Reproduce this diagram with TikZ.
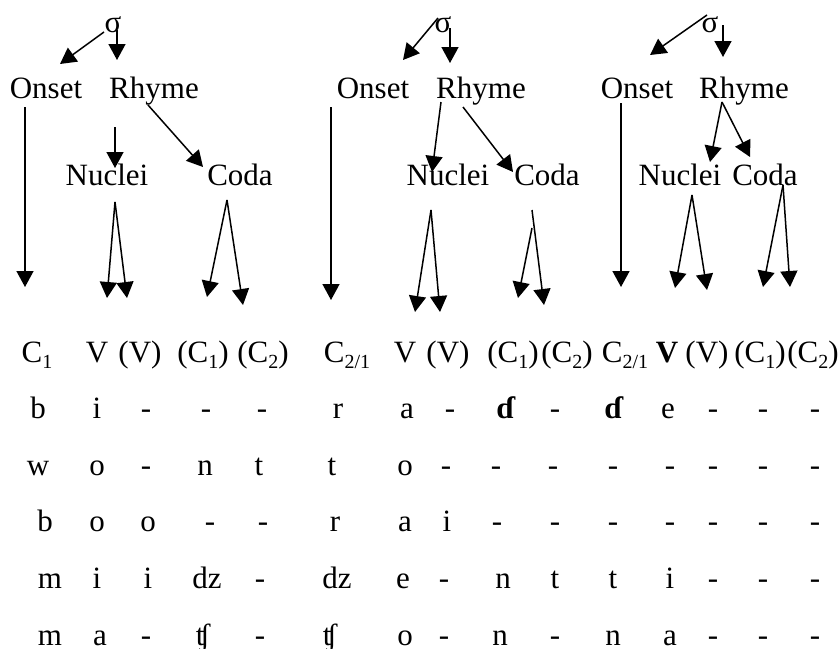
\documentclass[tikz,border=0pt]{standalone}
\usepackage{fontspec}
\setmainfont{Liberation Serif}
\usetikzlibrary{arrows.meta}
\newcommand{\lsub}[1]{\raisebox{-0.2em}{\fontsize{20}{20}\selectfont #1}}
\begin{document}
\begin{tikzpicture}[x=1pt,y=-1pt,
  font=\fontsize{31}{36}\selectfont,
  lbl/.style={anchor=base, inner sep=0pt},
  arr/.style={line width=1.5pt, -{Triangle[length=16pt,width=17pt]}}]
\useasboundingbox (0,0) rectangle (840,648);

% ---------- tree 1 ----------
\node[lbl] (s1) at (113,32) {σ};
\node[lbl] (on1) at (46,98) {Onset};
\node[lbl] (rh1) at (154,98) {Rhyme};
\node[lbl] (nu1) at (107,185) {Nuclei};
\node[lbl] (co1) at (240,185) {Coda};
% ---------- tree 2 ----------
\node[lbl] (s2) at (443,32) {σ};
\node[lbl] (on2) at (373,98) {Onset};
\node[lbl] (rh2) at (481,98) {Rhyme};
\node[lbl] (nu2) at (448,185) {Nuclei};
\node[lbl] (co2) at (547,185) {Coda};
% ---------- tree 3 ----------
\node[lbl] (s3) at (710,32) {σ};
\node[lbl] (on3) at (637,98) {Onset};
\node[lbl] (rh3) at (744,98) {Rhyme};
\node[lbl] (nu3) at (680,185) {Nuclei};
\node[lbl] (co3) at (765,185) {Coda};

% arrow coordinates, tree 1
\coordinate (a1s) at (104,32);  \coordinate (a1e) at (60,64);
\coordinate (a2s) at (117,30);  \coordinate (a2e) at (117,60);
\coordinate (a3s) at (25,107);  \coordinate (a3e) at (25,287);
\coordinate (a4s) at (115,127); \coordinate (a4e) at (115,168);
\coordinate (a5s) at (148,105); \coordinate (a5e) at (203,167);
\coordinate (a6s) at (115,202); \coordinate (a6e) at (107,298);
\coordinate (a7e) at (127,298);
\coordinate (a8s) at (227,200); \coordinate (a8e) at (207,297);
\coordinate (a9e) at (243,305);
% tree 2
\coordinate (b1s) at (438,18);  \coordinate (b1e) at (403,60);
\coordinate (b2s) at (450,28);  \coordinate (b2e) at (450,63);
\coordinate (b3s) at (331,107); \coordinate (b3e) at (331,300);
\coordinate (b4s) at (441,102); \coordinate (b4e) at (432,172);
\coordinate (b5s) at (463,107); \coordinate (b5e) at (513,172);
\coordinate (b6s) at (431,210); \coordinate (b6e) at (415,312);
\coordinate (b7e) at (440,312);
\coordinate (b8s) at (532,228); \coordinate (b8e) at (518,298);
\coordinate (b9s) at (532,210); \coordinate (b9e) at (544,305);
% tree 3
\coordinate (c1s) at (707,15);  \coordinate (c1e) at (650,55);
\coordinate (c2s) at (723,25);  \coordinate (c2e) at (723,57);
\coordinate (c3s) at (621,103); \coordinate (c3e) at (621,287);
\coordinate (c4s) at (722,102); \coordinate (c4e) at (710,162);
\coordinate (c5e) at (750,157);
\coordinate (c6s) at (692,195); \coordinate (c6e) at (675,288);
\coordinate (c7e) at (707,290);
\coordinate (c8s) at (783,185); \coordinate (c8e) at (763,287);
\coordinate (c9e) at (790,287);

\draw[arr] (a1s) -- (a1e);
\draw[arr] (a2s) -- (a2e);
\draw[arr] (a3s) -- (a3e);
\draw[arr] (a4s) -- (a4e);
\draw[arr] (a5s) -- (a5e);
\draw[arr] (a6s) -- (a6e);
\draw[arr] (a6s) -- (a7e);
\draw[arr] (a8s) -- (a8e);
\draw[arr] (a8s) -- (a9e);

\draw[arr] (b1s) -- (b1e);
\draw[arr] (b2s) -- (b2e);
\draw[arr] (b3s) -- (b3e);
\draw[arr] (b4s) -- (b4e);
\draw[arr] (b5s) -- (b5e);
\draw[arr] (b6s) -- (b6e);
\draw[arr] (b6s) -- (b7e);
\draw[arr] (b8s) -- (b8e);
\draw[arr] (b9s) -- (b9e);

\draw[arr] (c1s) -- (c1e);
\draw[arr] (c2s) -- (c2e);
\draw[arr] (c3s) -- (c3e);
\draw[arr] (c4s) -- (c4e);
\draw[arr] (c4s) -- (c5e);
\draw[arr] (c6s) -- (c6e);
\draw[arr] (c6s) -- (c7e);
\draw[arr] (c8s) -- (c8e);
\draw[arr] (c8s) -- (c9e);

% ---------- header row ----------
\foreach \x/\t [count=\i] in {37/{C\lsub{1}}, 97/V, 140/(V), 203/{(C\lsub{1})}, 263/{(C\lsub{2})},
   347/{C\lsub{2/1}}, 405/V, 448/(V), 513/{(C\lsub{1})}, 567/{(C\lsub{2})},
   625/{C\lsub{2/1}}, 667/{\bfseries V}, 707/(V), 760/{(C\lsub{1})}, 813/{(C\lsub{2})}}
  \node[lbl] (h\i) at (\x,362) {\t};

% ---------- data rows ----------
\foreach \x/\t [count=\i] in {38/b, 97/i, 146/-, 206/-, 262/-, 338/r, 407/a, 450/-, 505/{\bfseries ɗ}, 555/-, 613/{\bfseries ɗ}, 668/e, 713/-, 763/-, 815/-}
  \node[lbl] (ra\i) at (\x,418) {\t};
\foreach \x/\t [count=\i] in {38/w, 97/o, 146/-, 205/n, 259/t, 332/t, 405/o, 446/-, 496/-, 553/-, 613/-, 670/-, 713/-, 763/-, 815/-}
  \node[lbl] (rb\i) at (\x,475) {\t};
\foreach \x/\t [count=\i] in {45/b, 97/o, 148/o, 210/-, 263/-, 335/r, 405/a, 447/i, 497/-, 555/-, 613/-, 670/-, 713/-, 763/-, 815/-}
  \node[lbl] (rc\i) at (\x,531) {\t};
\foreach \x/\t [count=\i] in {50/m, 97/i, 148/i, 207/dz, 260/-, 337/dz, 403/e, 444/-, 503/n, 555/t, 613/t, 670/i, 713/-, 763/-, 815/-}
  \node[lbl] (rd\i) at (\x,588) {\t};
\foreach \x/\t [count=\i] in {50/m, 100/a, 146/-, 203/ʧ, 260/-, 330/ʧ, 405/o, 444/-, 500/n, 555/-, 613/n, 670/a, 713/-, 763/-, 815/-}
  \node[lbl] (re\i) at (\x,645) {\t};
\end{tikzpicture}
\end{document}
